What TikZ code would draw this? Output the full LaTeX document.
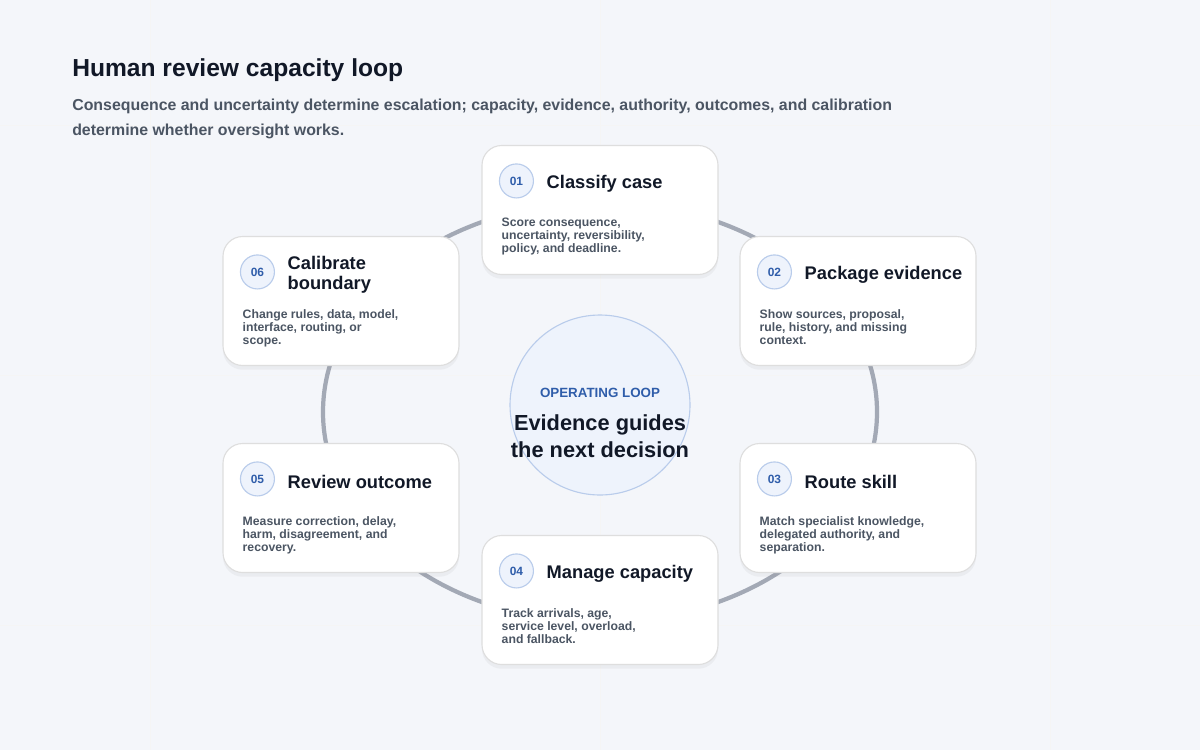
\documentclass[tikz,border=0pt]{standalone}
\usepackage{fontspec}
\setmainfont{Liberation Sans}
\usetikzlibrary{positioning,shadows,shapes.geometric}
\definecolor{ink}{HTML}{111827}
\definecolor{muted}{HTML}{4B5563}
\definecolor{accent}{HTML}{2F5DAA}
\definecolor{ring}{HTML}{A3A9B5}
\definecolor{badge}{HTML}{EEF3FC}
\definecolor{badgeline}{HTML}{B9CCEB}
\definecolor{bg}{HTML}{F4F6FA}
\tikzset{
  card/.style={draw=black!13, fill=white, rounded corners=14pt, line width=0.8pt,
    minimum width=236*0.025cm, minimum height=129*0.025cm,
    drop shadow={shadow xshift=0pt, shadow yshift=-3pt, opacity=0.08}},
  num/.style={circle, draw=badgeline, fill=badge, line width=0.8pt, minimum size=34*0.025cm,
    inner sep=0pt, font=\fontsize{8.5}{10}\selectfont\bfseries, text=accent},
  head/.style={anchor=west, inner sep=0pt, align=left, text=ink,
    font=\fontsize{13}{14}\selectfont\bfseries},
  body/.style={anchor=north west, inner sep=0pt, align=left, text=muted,
    font=\fontsize{8.7}{9.3}\selectfont\bfseries}
}
\begin{document}
\begin{tikzpicture}[x=0.025cm,y=-0.025cm]
  \fill[bg] (0,0) rectangle (1200,750);
  \useasboundingbox (0,0) rectangle (1200,750);
  \foreach \gx in {150,600,1050} \draw[black!4] (\gx,0) -- (\gx,750);
  \foreach \gy in {125,375,625} \draw[black!4] (0,\gy) -- (1200,\gy);
  % titles
  \node[anchor=west, inner sep=0pt, text=ink, font=\fontsize{17.5}{20}\selectfont\bfseries] (title) at (72,70) {Human review capacity loop};
  \node[anchor=north west, inner sep=0pt, align=left, text=muted, font=\fontsize{11.3}{17.5}\selectfont\bfseries] (sub) at (72,99)
    {Consequence and uncertainty determine escalation; capacity, evidence, authority, outcomes, and calibration\\determine whether oversight works.};
  % ring and hub
  \node[ellipse, draw=ring, line width=3pt, inner sep=0pt, minimum width=554*0.025cm, minimum height=420*0.025cm] (loop) at (600,412) {};
  \node[circle, draw=badgeline, fill=badge, line width=0.8pt, minimum size=180*0.025cm] (hub) at (600,405) {};
  \node[text=accent, font=\fontsize{9.5}{10}\selectfont\bfseries] (hubtag) at (600,393) {OPERATING LOOP};
  \node[text=ink, align=center, font=\fontsize{15.5}{19}\selectfont\bfseries] (hubtext) at (600,436) {Evidence guides\\the next decision};
  % cards
  \foreach \n/\cx/\cy/\t/\b in {
    01/600/210/{Classify case}/{Score consequence,\\uncertainty, reversibility,\\policy, and deadline.},
    02/858/301/{Package evidence}/{Show sources, proposal,\\rule, history, and missing\\context.},
    03/858/508/{Route skill}/{Match specialist knowledge,\\delegated authority, and\\separation.},
    04/600/600/{Manage capacity}/{Track arrivals, age,\\service level, overload,\\and fallback.},
    05/341/508/{Review outcome}/{Measure correction, delay,\\harm, disagreement, and\\recovery.},
    06/341/301/{Calibrate\\boundary}/{Change rules, data, model,\\interface, routing, or\\scope.}}
  {
    \node[card] (card\n) at (\cx,\cy) {};
    \node[num] (num\n) at ([xshift=35*0.025cm, yshift=-36*0.025cm]card\n.north west) {\n};
    \node[head] (head\n) at ([xshift=30*0.025cm, yshift=-3*0.025cm]num\n.center) {\t};
    \node[body] (body\n) at ([xshift=20*0.025cm, yshift=-73*0.025cm]card\n.north west) {\b};
  }
\end{tikzpicture}
\end{document}
